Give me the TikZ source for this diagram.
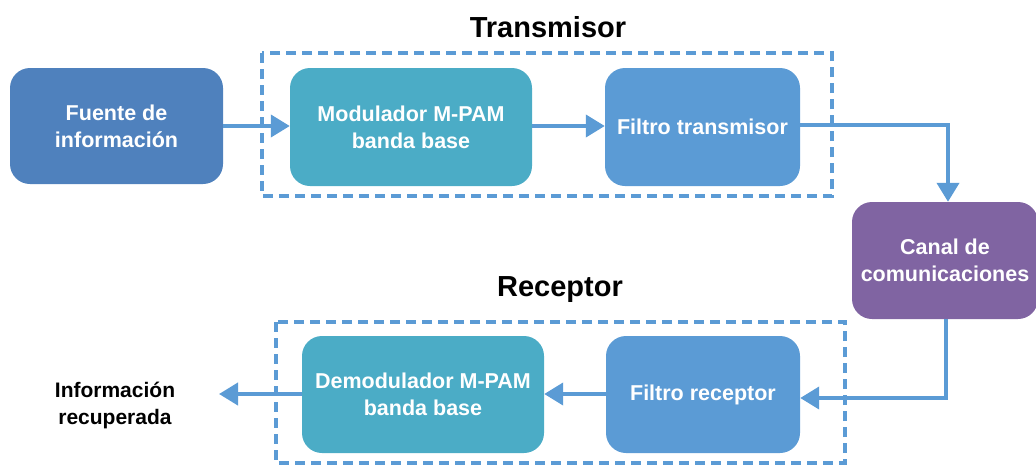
\documentclass[tikz,border=0pt]{standalone}
\usepackage{fontspec}
\setmainfont{Liberation Sans}
\usetikzlibrary{arrows.meta,calc}
\definecolor{darkblue}{HTML}{4F81BD}
\definecolor{teal}{HTML}{4BACC6}
\definecolor{midblue}{HTML}{5B9BD5}
\definecolor{purple}{HTML}{8064A2}
\tikzset{
  block/.style={rounded corners=20pt, text=white, font=\bfseries\fontsize{21.5}{27}\selectfont,
    align=center, inner sep=0pt, draw=none},
  flow/.style={line width=4pt, draw=midblue, -{Triangle[length=19pt,width=22pt]}},
  group/.style={draw=midblue, line width=4pt, dash pattern=on 10pt off 6pt},
  title/.style={font=\bfseries\fontsize{29}{33}\selectfont},
  plain/.style={font=\bfseries\fontsize{21}{27}\selectfont, align=center}
}
\begin{document}
\begin{tikzpicture}[x=1pt,y=-1pt]
\useasboundingbox (0,0) rectangle (1036,466);

% transmitter and receiver groups
\draw[group] (262,53) rectangle (832,196);
\draw[group] (276,322) rectangle (845,463);
\node[title] (ttx) at (548,27) {Transmisor};
\node[title] (trx) at (560,290) {Receptor};

% blocks
\node[block, fill=darkblue, minimum width=213pt, minimum height=116pt] (src) at (116.5,126) {Fuente de\\información};
\node[block, fill=teal, minimum width=242pt, minimum height=118pt] (mod) at (411,127) {Modulador M-PAM\\banda base};
\node[block, fill=midblue, minimum width=195pt, minimum height=118pt] (ftx) at (702.5,127) {Filtro transmisor};
\node[block, fill=purple, minimum width=186pt, minimum height=117pt] (ch) at (945,260.5) {Canal de\\comunicaciones};
\node[block, fill=midblue, minimum width=194pt, minimum height=117pt] (frx) at (703,394.5) {Filtro receptor};
\node[block, fill=teal, minimum width=242pt, minimum height=117pt] (dem) at (423,394.5) {Demodulador M-PAM\\banda base};
\node[plain] (out) at (115,405) {Información\\recuperada};
\coordinate (outend) at (219,394);

% signal flow
\draw[flow] (src.east |- 0,126) -- (mod.west |- 0,126);
\draw[flow] (mod.east |- 0,126) -- (ftx.west |- 0,126);
\draw[flow] (ftx.east |- 0,125) -- (948,125) -- (ch.north -| 948,0);
\draw[flow] (ch.south -| 946,0) -- (946,398) -- (frx.east |- 0,398);
\draw[flow] (frx.west |- 0,394) -- (dem.east |- 0,394);
\draw[flow] (dem.west |- 0,394) -- (outend);
\end{tikzpicture}
\end{document}
